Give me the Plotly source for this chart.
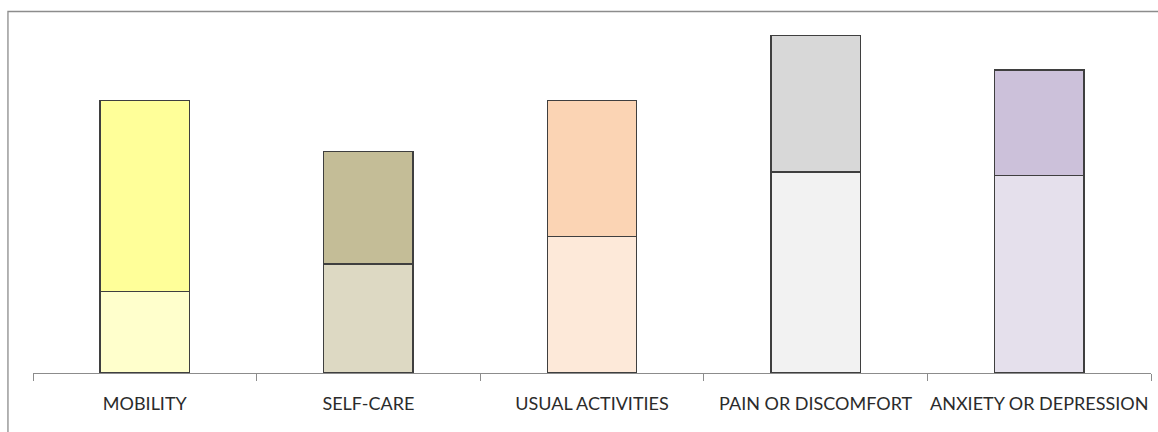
import plotly.graph_objects as go

# EQ-5D dimensions and the two stacked shares per dimension
categories = ["MOBILITY", "SELF-CARE", "USUAL ACTIVITIES", "PAIN OR DISCOMFORT", "ANXIETY OR DEPRESSION"]
lower_values = [24, 32, 40, 59, 58]
upper_values = [56, 33, 40, 40, 31]

lower_colors = ["#FFFFCC", "#DDD9C3", "#FDE9D9", "#F2F2F2", "#E5E0EC"]
upper_colors = ["#FFFF99", "#C4BD97", "#FBD4B4", "#D8D8D8", "#CCC1DA"]

outline = dict(color="#3F3F3F", width=1.3)

fig = go.Figure()
fig.add_trace(go.Bar(x=categories, y=lower_values, marker=dict(color=lower_colors, line=outline),
                     width=0.4, showlegend=False, hoverinfo="x+y"))
fig.add_trace(go.Bar(x=categories, y=upper_values, marker=dict(color=upper_colors, line=outline),
                     width=0.4, showlegend=False, hoverinfo="x+y"))

fig.update_layout(
    barmode="stack",
    width=1158, height=432,
    margin=dict(l=33, r=7, t=12, b=59),
    paper_bgcolor="white", plot_bgcolor="white",
    font=dict(family="Lato, Carlito, Calibri, sans-serif", size=18, color="#2B2B2B"),
    xaxis=dict(
        type="category", range=[-0.5, 4.5], automargin=False, tickangle=0,
        showline=True, linecolor="#8C8C8C", linewidth=1.3,
        ticks="outside", tickson="boundaries", ticklen=7, tickcolor="#8C8C8C", tickwidth=1.3,
        showgrid=False, ticklabelstandoff=14,
    ),
    yaxis=dict(range=[0, 106], visible=False, showgrid=False, zeroline=False, automargin=False),
    shapes=[
        # chart frame
        dict(type="rect", xref="paper", yref="paper", x0=-0.0224, x1=1.02, y0=-0.3, y1=1.0014,
             line=dict(color="#8C8C8C", width=1.3), fillcolor="rgba(0,0,0,0)", layer="below"),
    ],
)

fig.write_html("out.html")
